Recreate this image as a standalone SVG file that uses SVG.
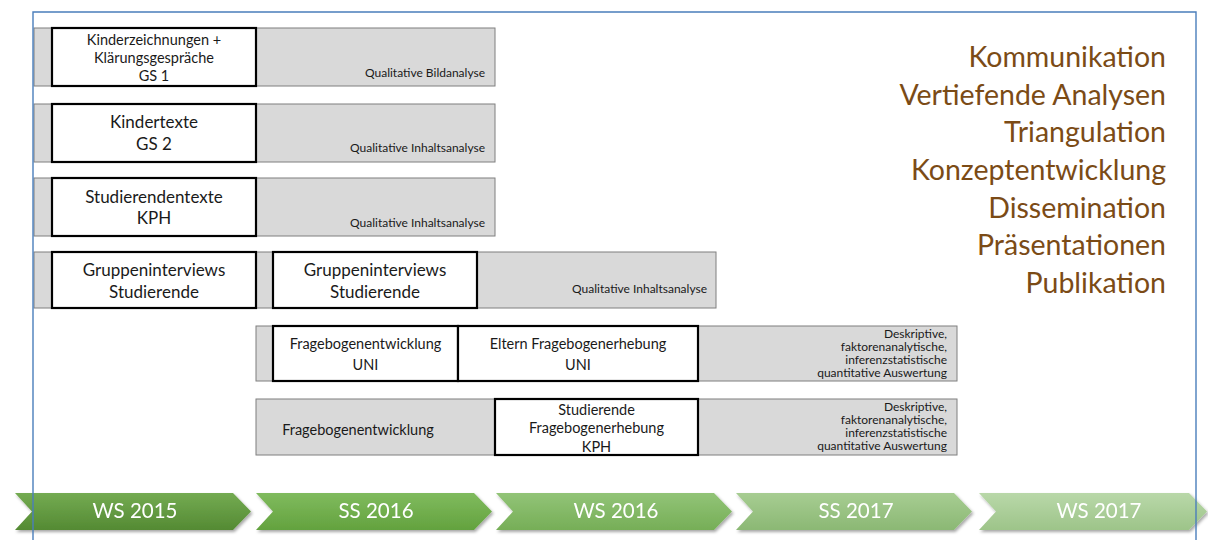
<svg xmlns="http://www.w3.org/2000/svg" width="1208" height="540" viewBox="0 0 1208 540">
  <defs>
    <style>
      .bar { fill: #d9d9d9; stroke: #7f7f7f; stroke-width: 1; }
      .box { fill: #ffffff; stroke: #000000; stroke-width: 2.2; }
      .t { font-family: Lato, "Liberation Sans", sans-serif; fill: #1a1a1a; text-anchor: middle; }
      .big { font-size: 17px; }
      .mid { font-size: 14.5px; }
      .sm { font-size: 14.5px; }
      .lbl { font-family: Lato, "Liberation Sans", sans-serif; fill: #1a1a1a; font-size: 12px; text-anchor: end; }
      .side { font-family: Lato, "Liberation Sans", sans-serif; fill: #7b4b16; font-size: 28.5px; text-anchor: end; }
      .sem { font-family: Lato, "Liberation Sans", sans-serif; fill: #ffffff; font-size: 20.5px; text-anchor: middle; }
      .frame { stroke: #4a7ebb; stroke-width: 1.4; fill: none; }
    </style>
    <linearGradient id="g1" x1="0" y1="0" x2="0" y2="1">
      <stop offset="0" stop-color="#74ab52"/>
      <stop offset="1" stop-color="#548a33"/>
    </linearGradient>
    <linearGradient id="g2" x1="0" y1="0" x2="0" y2="1">
      <stop offset="0" stop-color="#80bb5e"/>
      <stop offset="1" stop-color="#63a23e"/>
    </linearGradient>
    <linearGradient id="g3" x1="0" y1="0" x2="0" y2="1">
      <stop offset="0" stop-color="#92c477"/>
      <stop offset="1" stop-color="#76ae57"/>
    </linearGradient>
    <linearGradient id="g4" x1="0" y1="0" x2="0" y2="1">
      <stop offset="0" stop-color="#a7cd92"/>
      <stop offset="1" stop-color="#8bb874"/>
    </linearGradient>
    <linearGradient id="g5" x1="0" y1="0" x2="0" y2="1">
      <stop offset="0" stop-color="#b9d8a9"/>
      <stop offset="1" stop-color="#9dc489"/>
    </linearGradient>
    <filter id="shadow" x="-5%" y="-20%" width="110%" height="150%">
      <feDropShadow dx="1.5" dy="2" stdDeviation="1.5" flood-color="#000000" flood-opacity="0.35"/>
    </filter>
    <path id="chev" d="M0,0 H218 L236,18.5 L218,37 H0 L17,18.5 Z"/>
    <path id="chev-last" d="M0,0 H210 L228,18.5 L210,37 H0 L17,18.5 Z"/>
  </defs>

  <rect width="1208" height="540" fill="#ffffff"/>

  <!-- row 1 -->
  <g id="row1">
    <rect class="bar" x="34" y="28" width="461" height="58"/>
    <rect class="box" x="52" y="28" width="204" height="58"/>
    <text class="t sm" x="154" y="45">Kinderzeichnungen +</text>
    <text class="t sm" x="154" y="63">Klärungsgespräche</text>
    <text class="t sm" x="154" y="81">GS 1</text>
    <text class="lbl" x="485" y="77">Qualitative Bildanalyse</text>
  </g>

  <!-- row 2 -->
  <g id="row2">
    <rect class="bar" x="34" y="104" width="461" height="58"/>
    <rect class="box" x="52" y="104" width="204" height="58"/>
    <text class="t big" x="154" y="128">Kindertexte</text>
    <text class="t big" x="154" y="150">GS 2</text>
    <text class="lbl" x="485" y="152">Qualitative Inhaltsanalyse</text>
  </g>

  <!-- row 3 -->
  <g id="row3">
    <rect class="bar" x="34" y="178" width="461" height="58"/>
    <rect class="box" x="52" y="178" width="204" height="58"/>
    <text class="t big" x="154" y="203">Studierendentexte</text>
    <text class="t big" x="154" y="224">KPH</text>
    <text class="lbl" x="485" y="227">Qualitative Inhaltsanalyse</text>
  </g>

  <!-- row 4 -->
  <g id="row4">
    <rect class="bar" x="34" y="252" width="682" height="56"/>
    <rect class="box" x="52" y="252" width="204" height="56"/>
    <text class="t big" x="154" y="276">Gruppeninterviews</text>
    <text class="t big" x="154" y="298">Studierende</text>
    <rect class="box" x="273" y="252" width="204" height="56"/>
    <text class="t big" x="375" y="276">Gruppeninterviews</text>
    <text class="t big" x="375" y="298">Studierende</text>
    <text class="lbl" x="707" y="293">Qualitative Inhaltsanalyse</text>
  </g>

  <!-- row 5 -->
  <g id="row5">
    <rect class="bar" x="256" y="326" width="701" height="55"/>
    <rect class="box" x="273" y="326" width="185" height="55"/>
    <text class="t mid" x="365.5" y="349">Fragebogenentwicklung</text>
    <text class="t mid" x="365.5" y="370">UNI</text>
    <rect class="box" x="458" y="326" width="240" height="55"/>
    <text class="t mid" x="578" y="349">Eltern Fragebogenerhebung</text>
    <text class="t mid" x="578" y="370">UNI</text>
    <text class="lbl" x="947" y="338">Deskriptive,</text>
    <text class="lbl" x="947" y="351">faktorenanalytische,</text>
    <text class="lbl" x="947" y="364">inferenzstatistische</text>
    <text class="lbl" x="947" y="377">quantitative Auswertung</text>
  </g>

  <!-- row 6 -->
  <g id="row6">
    <rect class="bar" x="256" y="399" width="701" height="56"/>
    <text class="t mid" x="358" y="435">Fragebogenentwicklung</text>
    <rect class="box" x="495" y="399" width="203" height="56"/>
    <text class="t mid" x="596.5" y="415">Studierende</text>
    <text class="t mid" x="596.5" y="433">Fragebogenerhebung</text>
    <text class="t mid" x="596.5" y="452">KPH</text>
    <text class="lbl" x="947" y="411">Deskriptive,</text>
    <text class="lbl" x="947" y="424">faktorenanalytische,</text>
    <text class="lbl" x="947" y="437">inferenzstatistische</text>
    <text class="lbl" x="947" y="450">quantitative Auswertung</text>
  </g>

  <!-- later phases listed on the right -->
  <g id="phases">
    <text class="side" x="1166" y="67">Kommunikation</text>
    <text class="side" x="1166" y="105">Vertiefende Analysen</text>
    <text class="side" x="1166" y="142">Triangulation</text>
    <text class="side" x="1166" y="180">Konzeptentwicklung</text>
    <text class="side" x="1166" y="218">Dissemination</text>
    <text class="side" x="1166" y="255">Präsentationen</text>
    <text class="side" x="1166" y="293">Publikation</text>
  </g>

  <!-- semester timeline -->
  <g id="timeline" filter="url(#shadow)">
    <g id="sem-ws2015">
      <use href="#chev" x="15" y="493" fill="url(#g1)"/>
      <text class="sem" x="135" y="518">WS 2015</text>
    </g>
    <g id="sem-ss2016">
      <use href="#chev" x="256" y="493" fill="url(#g2)"/>
      <text class="sem" x="376" y="518">SS 2016</text>
    </g>
    <g id="sem-ws2016">
      <use href="#chev" x="496" y="493" fill="url(#g3)"/>
      <text class="sem" x="616" y="518">WS 2016</text>
    </g>
    <g id="sem-ss2017">
      <use href="#chev" x="736" y="493" fill="url(#g4)"/>
      <text class="sem" x="856" y="518">SS 2017</text>
    </g>
    <g id="sem-ws2017">
      <use href="#chev-last" x="979" y="493" fill="url(#g5)"/>
      <text class="sem" x="1099" y="518">WS 2017</text>
    </g>
  </g>

  <!-- outer frame -->
  <path class="frame" d="M33,540 V12 H1196 V540"/>
</svg>
